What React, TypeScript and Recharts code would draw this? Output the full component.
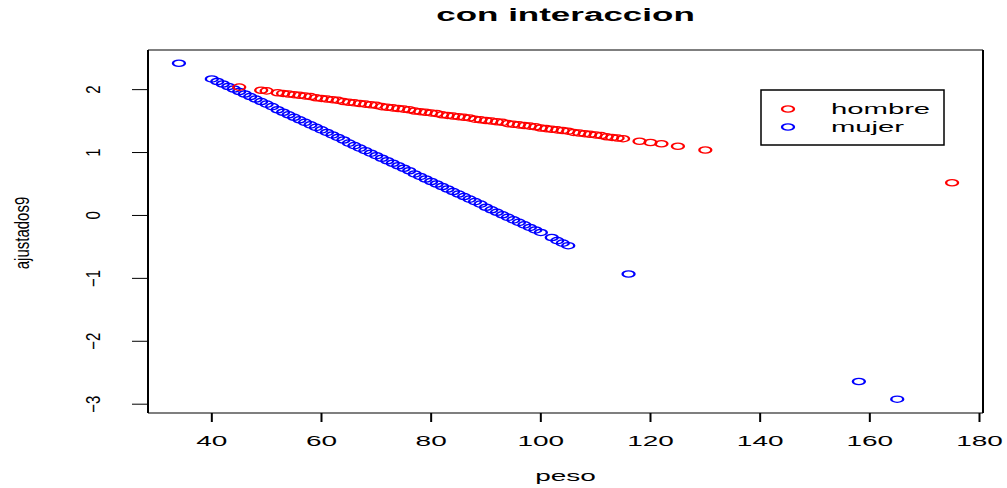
import React from 'react';
import { ScatterChart, Scatter, XAxis, YAxis, ReferenceLine } from 'recharts';

// fitted values (ajustados9) by peso
const hombrePeso = [
  45, 49, 50, 52, 53, 54, 55, 56, 57, 58, 59, 60, 61, 62, 63, 64, 65, 66, 67, 68, 69, 70,
  71, 72, 73, 74, 75, 76, 77, 78, 79, 80, 81, 82, 83, 84, 85, 86, 87, 88, 89, 90, 91, 92,
  93, 94, 95, 96, 97, 98, 99, 100, 101, 102, 103, 104, 105, 106, 107, 108, 109, 110, 111,
  112, 113, 114, 115, 118, 120, 122, 125, 130, 175,
];
const hombreAjustados = [
  2.04, 1.99, 1.98, 1.95, 1.94, 1.93, 1.92, 1.91, 1.9, 1.89, 1.87, 1.86, 1.85, 1.84, 1.83,
  1.81, 1.8, 1.79, 1.78, 1.77, 1.76, 1.75, 1.73, 1.72, 1.71, 1.7, 1.69, 1.68, 1.66, 1.65,
  1.64, 1.63, 1.62, 1.6, 1.59, 1.58, 1.57, 1.56, 1.55, 1.53, 1.52, 1.51, 1.5, 1.49, 1.48,
  1.46, 1.45, 1.44, 1.43, 1.42, 1.41, 1.39, 1.38, 1.37, 1.36, 1.35, 1.34, 1.32, 1.31, 1.3,
  1.29, 1.28, 1.27, 1.25, 1.24, 1.23, 1.22, 1.18, 1.16, 1.14, 1.1, 1.04, 0.52,
];
const mujerPeso = [
  34, 40, 41, 42, 43, 44, 45, 46, 47, 48, 49, 50, 51, 52, 53, 54, 55, 56, 57, 58, 59, 60,
  61, 62, 63, 64, 65, 66, 67, 68, 69, 70, 71, 72, 73, 74, 75, 76, 77, 78, 79, 80, 81, 82,
  83, 84, 85, 86, 87, 88, 89, 90, 91, 92, 93, 94, 95, 96, 97, 98, 99, 100, 102, 103, 104,
  105, 116, 158, 165,
];
const mujerAjustados = [
  2.42, 2.17, 2.13, 2.09, 2.05, 2.01, 1.97, 1.93, 1.89, 1.85, 1.81, 1.77, 1.73, 1.68, 1.64,
  1.6, 1.56, 1.52, 1.48, 1.44, 1.4, 1.36, 1.32, 1.28, 1.24, 1.2, 1.15, 1.11, 1.07, 1.03,
  0.99, 0.95, 0.91, 0.87, 0.83, 0.79, 0.75, 0.71, 0.66, 0.62, 0.58, 0.54, 0.5, 0.46, 0.42,
  0.38, 0.34, 0.3, 0.26, 0.22, 0.18, 0.13, 0.09, 0.05, 0.01, -0.03, -0.07, -0.11, -0.15,
  -0.19, -0.23, -0.27, -0.35, -0.4, -0.44, -0.48, -0.93, -2.64, -2.92,
];

const xTicks = [40, 60, 80, 100, 120, 140, 160, 180];
const yTicks = [-3, -2, -1, 0, 1, 2];
const seriesNames = ['hombre', 'mujer'];
const seriesColors = ['#ff0000', '#0000ff'];

const X_DOMAIN: [number, number] = [28.36, 180.64];
const Y_DOMAIN: [number, number] = [-3.14, 2.63];
const FONT = '"Liberation Sans", Arial, Helvetica, sans-serif';

const toRows = (xs: number[], ys: number[]) =>
  xs.map((peso, i) => ({ peso, ajustados9: ys[i] }));

const hombre = toRows(hombrePeso, hombreAjustados);
const mujer = toRows(mujerPeso, mujerAjustados);

// the original device is stretched sideways, so rings come out as flat ellipses
const Ring = ({ cx, cy, color }: { cx: number; cy: number; color: string }) => (
  <circle
    r={3.15}
    transform={`translate(${cx},${cy}) scale(1.9,1)`}
    fill="none"
    stroke={color}
    strokeWidth={1.25}
  />
);

const ring = (color: string) => (props: any) => <Ring cx={props.cx} cy={props.cy} color={color} />;

const XTick = (props: any) => (
  <text
    transform={`translate(${props.x},446) scale(2,1)`}
    textAnchor="middle"
    fontFamily={FONT}
    fontSize={14}
    fill="#000"
  >
    {props.payload.value}
  </text>
);

const YTick = (props: any) => (
  <text
    transform={`translate(100,${props.y}) scale(1.3,1) rotate(-90)`}
    textAnchor="middle"
    fontFamily={FONT}
    fontSize={15}
    fill="#000"
  >
    {String(props.payload.value).replace('-', '\u2212')}
  </text>
);

export default function App() {
  return (
    <div style={{ position: 'absolute', left: 0, top: 0, width: 1007, height: 488, background: '#fff' }}>
      <ScatterChart width={1007} height={488} margin={{ top: 50, right: 24, bottom: 45, left: 88 }}>
        <XAxis
          type="number"
          dataKey="peso"
          domain={X_DOMAIN}
          ticks={xTicks}
          allowDataOverflow
          axisLine={false}
          tickLine={{ stroke: '#000', strokeWidth: 2 }}
          tickSize={9}
          height={30}
          tick={<XTick />}
        />
        <YAxis
          type="number"
          dataKey="ajustados9"
          domain={Y_DOMAIN}
          ticks={yTicks}
          allowDataOverflow
          axisLine={false}
          tickLine={{ stroke: '#000', strokeWidth: 1 }}
          tickSize={16}
          width={60}
          tick={<YTick />}
        />
        <ReferenceLine x={X_DOMAIN[0]} stroke="#000" strokeWidth={2} />
        <ReferenceLine x={X_DOMAIN[1]} stroke="#000" strokeWidth={2} />
        <ReferenceLine y={Y_DOMAIN[0]} stroke="#000" strokeWidth={1.2} />
        <ReferenceLine y={Y_DOMAIN[1]} stroke="#000" strokeWidth={1.2} />
        <Scatter name={seriesNames[1]} data={mujer} shape={ring(seriesColors[1])} isAnimationActive={false} />
        <Scatter name={seriesNames[0]} data={hombre} shape={ring(seriesColors[0])} isAnimationActive={false} />
      </ScatterChart>
      <svg
        width={1007}
        height={488}
        style={{ position: 'absolute', left: 0, top: 0, pointerEvents: 'none' }}
      >
        <text
          transform="translate(565.5,21) scale(2,1)"
          textAnchor="middle"
          fontFamily={FONT}
          fontSize={17.5}
          fontWeight="bold"
        >
          con interaccion
        </text>
        <text transform="translate(565.5,481) scale(2,1)" textAnchor="middle" fontFamily={FONT} fontSize={14}>
          peso
        </text>
        <text
          transform="translate(29,233) scale(1.3,1) rotate(-90)"
          textAnchor="middle"
          fontFamily={FONT}
          fontSize={15}
        >
          ajustados9
        </text>
        <rect x={761} y={90} width={183} height={55} fill="#fff" stroke="#000" strokeWidth={1.5} />
        {seriesNames.map((name, i) => (
          <g key={name}>
            <Ring cx={788} cy={109 + i * 18} color={seriesColors[i]} />
            <text
              transform={`translate(831,${114 + i * 18}) scale(1.95,1)`}
              fontFamily={FONT}
              fontSize={15}
            >
              {name}
            </text>
          </g>
        ))}
      </svg>
    </div>
  );
}
